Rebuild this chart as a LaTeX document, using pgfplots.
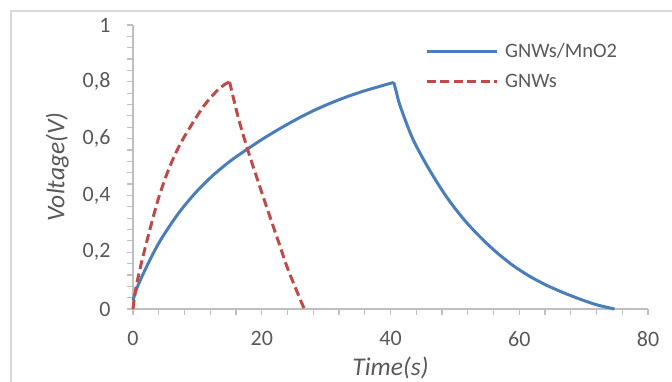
\documentclass[border=0pt]{standalone}
\usepackage{fontspec}
\setmainfont{Carlito}
\usepackage{pgfplots}
\pgfplotsset{compat=1.18}
\definecolor{txt}{HTML}{595959}
\definecolor{axl}{HTML}{BFBFBF}
\definecolor{brd}{HTML}{D9D9D9}
\definecolor{cblue}{HTML}{4A7EBB}
\definecolor{cred}{HTML}{BE4B48}
\begin{document}
\begin{tikzpicture}[x=1pt,y=1pt]
\useasboundingbox (0,0) rectangle (672,382);
\draw[brd, line width=1.5pt] (11,-5) -- (11,371) -- (690,371);
\begin{axis}[
  at={(133pt,73pt)}, anchor=south west,
  width=515pt, height=284pt, scale only axis,
  xmin=0, xmax=80, ymin=0, ymax=1,
  clip=false,
  axis x line=bottom, axis y line=left,
  axis line style={axl, line width=1.2pt, -},
  xtick={0,20,40,60,80}, ytick={0,0.2,0.4,0.6,0.8,1},
  minor x tick num=4, minor y tick num=4,
  tick align=outside, major tick length=6pt, minor tick length=6pt,
  every tick/.style={axl, line width=1.2pt},
  every minor tick/.style={axl, line width=1.2pt},
  ticklabel style={font=\fontsize{22}{26}\selectfont, text=txt},
  xticklabel style={yshift=-13pt},
  yticklabel style={xshift=-13pt},
  /pgf/number format/assume math mode=true,
  /pgf/number format/use comma,
  /pgf/number format/fixed,
  xlabel={Time(s)}, ylabel={Voltage(V)},
  label style={font=\fontsize{25.5}{30}\selectfont\itshape, text=txt},
  xlabel style={at={(axis description cs:0.5,-0.207)}, anchor=center},
  ylabel style={at={(axis description cs:-0.147,0.5)}, anchor=center},
  legend style={at={(axis description cs:0.567,0.942)}, anchor=north west,
    draw=none, fill=none, font=\fontsize{20.5}{24}\selectfont, text=txt,
    inner sep=0pt, row sep=11pt},
  legend cell align=left,
  legend image code/.code={\draw[#1] (0pt,0pt) -- (70pt,0pt); \path (75pt,0pt);},
]
\addplot[cblue, line width=3pt, smooth, tension=0.5] coordinates {
(0,0.03) (0.5,0.067) (1.3,0.11) (2.85,0.183) (4.4,0.247) (7.0,0.335)
(9.6,0.4065) (12.2,0.466) (15,0.519) (17.7,0.562) (20.2,0.5995) (22.8,0.635)
(25.4,0.668) (28,0.698) (30.6,0.724) (33.2,0.747) (35.8,0.767) (38.2,0.783)
(40.5,0.798)
};
\addlegendentry{GNWs/MnO2}
\addplot[cblue, line width=3pt, smooth, tension=0.5, forget plot] coordinates {
(40.5,0.798) (40.9,0.765) (41.5,0.715) (43.5,0.597) (46.1,0.488) (48.7,0.395)
(51.3,0.318) (53.9,0.254) (56.5,0.199) (59.1,0.152) (61.7,0.114) (64.3,0.083)
(66.8,0.058) (69.4,0.035) (72,0.015) (74.8,0)
};
\addplot[cred, line width=3pt, dash pattern=on 9pt off 4.5pt, smooth, tension=0.5] coordinates {
(0,0) (0.5,0.08) (1.5,0.18) (2.8,0.295) (4.1,0.40) (5.6,0.495) (7.2,0.575)
(9.0,0.645) (11.0,0.715) (12.9,0.765) (14.2,0.79) (15.0,0.80)
};
\addlegendentry{GNWs}
\addplot[cred, line width=3pt, dash pattern=on 9pt off 4.5pt, smooth, tension=0.5, forget plot] coordinates {
(15.0,0.80) (16.4,0.67) (17.9,0.555) (19.5,0.445) (21.0,0.343) (22.6,0.237)
(24.1,0.138) (26.6,0)
};
\end{axis}
\end{tikzpicture}
\end{document}
